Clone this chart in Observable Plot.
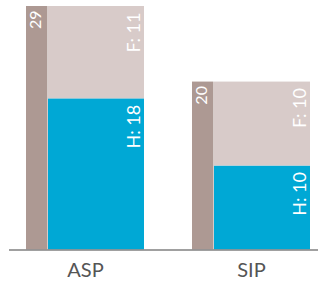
<!DOCTYPE html>
<html>
<head>
<meta charset="utf-8">
<script src="https://cdn.jsdelivr.net/npm/d3@7"></script>
<script src="https://cdn.jsdelivr.net/npm/@observablehq/plot@0.6"></script>
<style>
  html, body { margin: 0; padding: 0; background: #fff; }
</style>
</head>
<body>
<div id="chart"></div>
<script>
const categories = ["ASP", "SIP"];
const totals = [29, 20];
const parts = ["H", "F"];
const hValues = [18, 10];
const fValues = [11, 10];

const colDark = "#ad9993";
const colLight = "#d8cbc9";
const colBlue = "#00a8d5";

const totalData = categories.map((c, i) => ({cat: c, total: totals[i]}));
const stackData = [];
categories.forEach((c, i) => {
  stackData.push({cat: c, part: "H", value: hValues[i]});
  stackData.push({cat: c, part: "F", value: fValues[i]});
});

const chart = Plot.plot({
  width: 318,
  height: 281,
  marginLeft: 9,
  marginRight: 0,
  marginTop: 6,
  marginBottom: 31.5,
  style: {fontFamily: "Lato, sans-serif", color: "#555", background: "#fff"},
  x: {type: "band", domain: categories, range: [25, 310.5], paddingInner: 0.288, paddingOuter: 0, label: null},
  y: {domain: [0, 29], axis: null},
  color: {domain: parts, range: [colBlue, colLight]},
  marks: [
    Plot.barY(totalData, {x: "cat", y: "total", fill: colDark, insetRight: 96.5}),
    Plot.barY(stackData, {x: "cat", y: "value", fill: "part", insetLeft: 22}),
    Plot.ruleY([0], {stroke: "#808080", strokeWidth: 1.5}),
    Plot.text(totalData, {x: "cat", y: "total", text: d => String(d.total), rotate: -90, textAnchor: "end", fill: "white", fontSize: 16, dx: -49.5, dy: 4}),
    Plot.textY(stackData, Plot.stackY2({x: "cat", y: "value", text: d => `${d.part}: ${d.value}`, rotate: -90, textAnchor: "end", fill: "white", fontSize: 18, dx: 48.5, dy: 6})),
    Plot.axisX({tickSize: 0, tickPadding: 13, fontSize: 20, label: null})
  ]
});
document.getElementById("chart").appendChild(chart);
</script>
</body>
</html>
